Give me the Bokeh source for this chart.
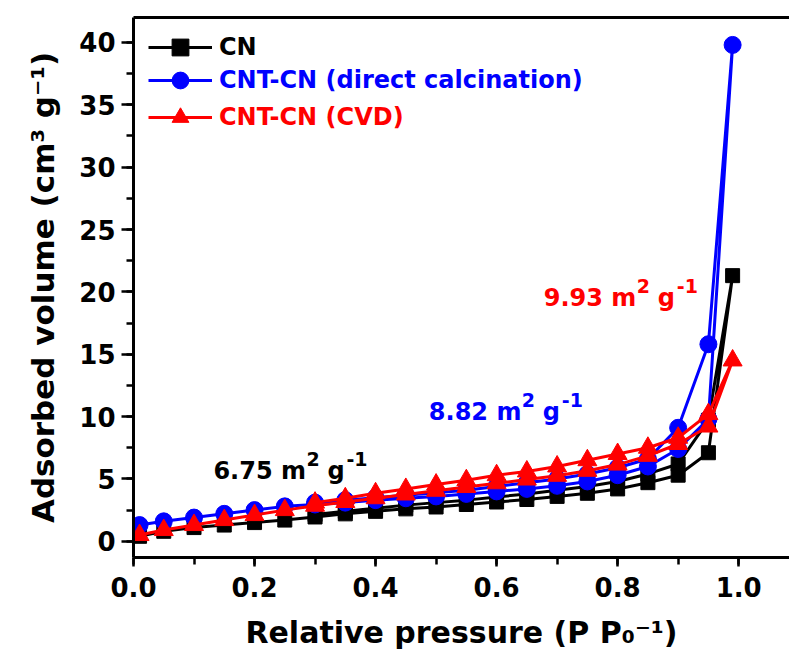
from bokeh.plotting import figure
from bokeh.models import (Range1d, LinearAxis, FixedTicker, SingleIntervalTicker,
                          PrintfTickFormatter, Legend, LegendItem, Label)
from bokeh.embed import file_html
from bokeh.resources import INLINE

# Relative pressure points: adsorption branch (up) then desorption branch (down)
p_ads = [0.01, 0.05, 0.10, 0.15, 0.20, 0.25, 0.30, 0.35, 0.40, 0.45, 0.50,
         0.55, 0.60, 0.65, 0.70, 0.75, 0.80, 0.85, 0.90, 0.95, 0.99]
p_des = [0.95, 0.90, 0.85, 0.80, 0.75, 0.70, 0.65, 0.60, 0.55, 0.50, 0.45,
         0.40, 0.35, 0.30]

# Adsorbed volume (cm3 g-1)
cn_ads = [0.4, 0.8, 1.1, 1.3, 1.5, 1.7, 1.95, 2.2, 2.4, 2.6, 2.75,
          2.95, 3.15, 3.35, 3.6, 3.85, 4.2, 4.7, 5.3, 7.1, 21.3]
cn_des = [9.7, 6.2, 5.4, 4.8, 4.4, 4.1, 3.8, 3.55, 3.3, 3.1, 2.9,
          2.65, 2.4, 2.15]

dc_ads = [1.3, 1.6, 1.9, 2.2, 2.5, 2.8, 2.95, 3.1, 3.3, 3.45, 3.6,
          3.8, 4.0, 4.2, 4.45, 4.8, 5.3, 6.0, 7.4, 9.8, 39.8]
dc_des = [15.8, 9.1, 6.6, 5.9, 5.4, 5.0, 4.7, 4.4, 4.1, 3.9, 3.7,
          3.5, 3.3, 3.1]

cvd_ads = [0.5, 0.9, 1.3, 1.7, 2.1, 2.5, 2.85, 3.15, 3.45, 3.75, 4.05,
           4.35, 4.65, 4.95, 5.25, 5.65, 6.15, 6.85, 7.8, 9.2, 14.5]
cvd_des = [10.2, 8.3, 7.5, 7.0, 6.5, 6.0, 5.6, 5.3, 4.9, 4.55, 4.2,
           3.85, 3.45, 3.1]

series_names = ["CN", "CNT-CN (direct calcination)", "CNT-CN (CVD)"]
bet_values = ["6.75", "8.82", "9.93"]
bet_pos_x = [0.132, 0.488, 0.678]
bet_pos_y = [5.6, 10.38, 19.51]

FONT = "DejaVu Sans"
BLACK, BLUE, RED = "#000000", "#0000FF", "#FF0000"

p = figure(width=789, height=652, output_backend="svg", toolbar_location=None,
           x_range=Range1d(0, 1.084), y_range=Range1d(-1.3, 42.0),
           min_border_left=133, min_border_right=0, min_border_top=17,
           min_border_bottom=95)
p.outline_line_color = None
p.xgrid.visible = False
p.ygrid.visible = False
p.background_fill_color = "white"
p.border_fill_color = "white"

# axes
for ax in (p.xaxis[0], p.yaxis[0]):
    ax.axis_line_width = 3
    ax.major_tick_line_width = 2.5
    ax.minor_tick_line_width = 2.5
    ax.major_tick_in = 0
    ax.minor_tick_in = 0
    ax.major_label_text_font = FONT
    ax.major_label_text_font_style = "bold"
    ax.major_label_text_font_size = "26px"
    ax.major_label_text_color = "black"
    ax.axis_label_text_font = FONT
    ax.axis_label_text_font_style = "bold"
    ax.axis_label_text_color = "black"

p.xaxis.ticker = SingleIntervalTicker(interval=0.2, num_minor_ticks=2)
p.xaxis.formatter = PrintfTickFormatter(format="%.1f")
p.xaxis.major_tick_out = 9
p.xaxis.minor_tick_out = 7
p.xaxis.major_label_standoff = 10
p.xaxis.axis_label = "Relative pressure (P P\u2080\u207b\u00b9)"
p.xaxis.axis_label_text_font_size = "30px"
p.xaxis.axis_label_standoff = 15

p.yaxis.ticker = SingleIntervalTicker(interval=5, num_minor_ticks=2)
p.yaxis.major_tick_out = 12
p.yaxis.minor_tick_out = 7
p.yaxis.major_label_standoff = 6
p.yaxis.axis_label = "Adsorbed volume (cm\u00b3 g\u207b\u00b9)"
p.yaxis.axis_label_text_font_size = "31px"
p.yaxis.axis_label_standoff = 15

# top frame line
top = LinearAxis(ticker=FixedTicker(ticks=[]), axis_line_width=3,
                 major_tick_line_color=None, minor_tick_line_color=None)
p.add_layout(top, "above")


def text_piece(txt, x, y, dx, dy, size, color="black"):
    """Bold text anchored at a data point, shifted by dx/dy pixels."""
    p.add_layout(Label(x=x, y=y, x_offset=dx, y_offset=dy, text=txt,
                       text_font=FONT, text_font_style="bold",
                       text_font_size=f"{size}px", text_color=color,
                       text_align="left", text_baseline="middle"))


# isotherms: adsorption followed by desorption
x_all = p_ads + p_des
curves = [
    (cn_ads + cn_des, BLACK, "square", 14),
    (dc_ads + dc_des, BLUE, "circle", 17),
    (cvd_ads + cvd_des, RED, "triangle", 19),
]
renderers = []
for y_vals, color, marker, size in curves:
    lr = p.line(x_all, y_vals, line_color=color, line_width=3)
    sr = p.scatter(x_all, y_vals, marker=marker, size=size,
                   fill_color=color, line_color=color, line_width=1)
    renderers.append((lr, sr))

# one legend per series so each label takes its series colour
legend_y = [489, 456, 419]
for (lr, sr), name, color, ly in zip(renderers, series_names, [BLACK, BLUE, RED], legend_y):
    leg = Legend(items=[LegendItem(label=name, renderers=[lr, sr])],
                 location=(15, ly), padding=0, spacing=0, margin=0,
                 glyph_width=64, glyph_height=42, label_standoff=7,
                 border_line_color=None, background_fill_alpha=0,
                 label_text_font=FONT, label_text_font_style="bold",
                 label_text_font_size="24px", label_text_color=color)
    p.add_layout(leg)

# BET surface areas (m2 g-1) with raised exponents
for val, bx, by, color in zip(bet_values, bet_pos_x, bet_pos_y, [BLACK, BLUE, RED]):
    text_piece(val + " m", bx, by, 0, 0, 24, color)
    text_piece("2", bx, by, 93, 12, 19, color)
    text_piece("g", bx, by, 114, 0, 24, color)
    text_piece("-1", bx, by, 133, 12, 19, color)

open("out.html", "w").write(file_html(p, INLINE))
